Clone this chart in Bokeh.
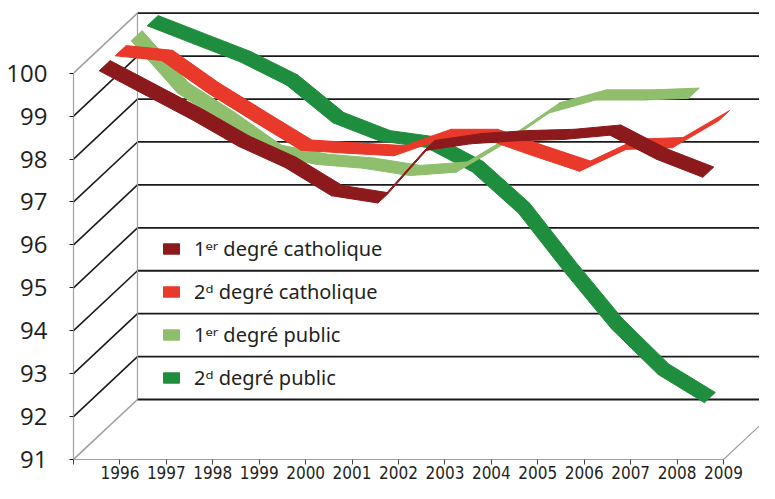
import numpy as np
from bokeh.plotting import figure
from bokeh.models import FixedTicker, Legend, LegendItem, Range1d
from bokeh.core.properties import value
from bokeh.embed import file_html
from bokeh.resources import INLINE

# ---------------- data ----------------
years = list(range(1996, 2010))
cath1 = [100, 99.43, 98.86, 98.24, 97.75, 97.09, 96.92, 98.14, 98.30, 98.37, 98.40, 98.50, 97.94, 97.52]
cath2 = [100, 99.89, 99.13, 98.46, 97.80, 97.73, 97.67, 98.05, 98.05, 97.67, 97.31, 97.82, 97.86, 98.49]
pub1 = [100, 98.78, 98.09, 97.33, 97.12, 97.03, 96.86, 96.94, 97.58, 98.32, 98.62, 98.62, 98.66]
pub2 = [100, 99.58, 99.16, 98.62, 97.74, 97.32, 97.17, 96.60, 95.63, 94.25, 92.94, 91.88, 91.22]
series_names = ["1ᵉʳ degré catholique", "2ᵈ degré catholique", "1ᵉʳ degré public", "2ᵈ degré public"]
y_ticks = list(range(91, 101))

# ---------------- style ----------------
colors = ["#8c1a1c", "#e8392a", "#8fbf6d", "#1f8d3e"]
series = [cath1, cath2, pub1, pub2]
DX = 1.378   # horizontal shift (category units) for full depth
DY = 1.398   # vertical shift (value units) for full depth
HALF = 0.085 # half ribbon depth (fraction of full depth)
n_cat = len(years)

p = figure(width=759, height=483, output_backend="svg", toolbar_location=None,
           x_range=Range1d(0, 14.775), y_range=Range1d(91, 101.694),
           min_border_left=73, min_border_right=0, min_border_top=0, min_border_bottom=24)
p.grid.visible = False
p.outline_line_color = None
p.background_fill_color = "white"
p.border_fill_color = "white"

GRAY = "#a0a0a0"
BLACK = "#1a1a1a"
# side wall gridlines
for v in y_ticks:
    col = GRAY if v in (y_ticks[0], y_ticks[-1]) else BLACK
    p.segment(x0=0, y0=v, x1=DX, y1=v + DY, line_color=col, line_width=1.6)
# back wall gridlines
for v in y_ticks:
    p.segment(x0=DX, y0=v + DY, x1=n_cat + DX + 1, y1=v + DY, line_color=BLACK, line_width=1.8)
# back wall left edge
p.segment(x0=DX, y0=y_ticks[0] + DY, x1=DX, y1=y_ticks[-1] + DY, line_color=GRAY, line_width=1.2)
# floor right edge
p.segment(x0=n_cat, y0=y_ticks[0], x1=n_cat + DX, y1=y_ticks[0] + DY, line_color=GRAY, line_width=1.2)

# ribbons, back to front
renderers = {}
for i in [3, 2, 1, 0]:
    vals = series[i]
    d = (i + 0.5) / 4.0
    xs, ys = [], []
    for k in range(len(vals) - 1):
        x0, x1 = k + 0.5, k + 1.5
        v0, v1 = vals[k], vals[k + 1]
        f, b = d - HALF, d + HALF
        xs.append([x0 + DX * f, x1 + DX * f, x1 + DX * b, x0 + DX * b])
        ys.append([v0 + DY * f, v1 + DY * f, v1 + DY * b, v0 + DY * b])
    renderers[i] = p.patches(xs, ys, fill_color=colors[i], line_color=colors[i], line_width=1)

# axes
p.yaxis.ticker = FixedTicker(ticks=y_ticks)
p.yaxis.bounds = (y_ticks[0], y_ticks[-1])
p.yaxis.axis_line_color = GRAY
p.yaxis.axis_line_width = 1.2
p.yaxis.major_tick_out = 4
p.yaxis.major_tick_in = 0
p.yaxis.major_tick_line_color = BLACK
p.yaxis.minor_tick_line_color = None
p.yaxis.major_label_text_font = "Open Sans"
p.yaxis.major_label_text_font_size = "24px"
p.yaxis.major_label_text_color = "#231f20"
p.yaxis.major_label_standoff = 22

p.xaxis.ticker = FixedTicker(ticks=list(range(n_cat + 1)))
p.xaxis.bounds = (0, n_cat)
overrides = {0: ""}
for k, yr in enumerate(years):
    overrides[k + 1] = str(yr)
p.xaxis.major_label_overrides = overrides
p.xaxis.axis_line_color = GRAY
p.xaxis.axis_line_width = 1.2
p.xaxis.major_tick_out = 5
p.xaxis.major_tick_in = 0
p.xaxis.major_tick_line_color = "#444444"
p.xaxis.minor_tick_line_color = None
p.xaxis.major_label_text_font = "DejaVu Sans Condensed"
p.xaxis.major_label_text_font_size = "17px"
p.xaxis.major_label_text_color = "#231f20"
p.xaxis.major_label_standoff = 1

legend = Legend(items=[LegendItem(label=series_names[i], renderers=[renderers[i]]) for i in range(4)],
                location=(88, 68))
legend.label_text_font = "Noto Sans"
legend.label_text_font_size = "20px"
legend.label_text_color = "#231f20"
legend.glyph_width = 20
legend.glyph_height = 13
legend.label_standoff = 13
legend.spacing = 16
legend.padding = 0
legend.margin = 0
legend.border_line_color = None
legend.background_fill_alpha = 0
p.add_layout(legend, "center")

open("out.html", "w").write(file_html(p, INLINE))
